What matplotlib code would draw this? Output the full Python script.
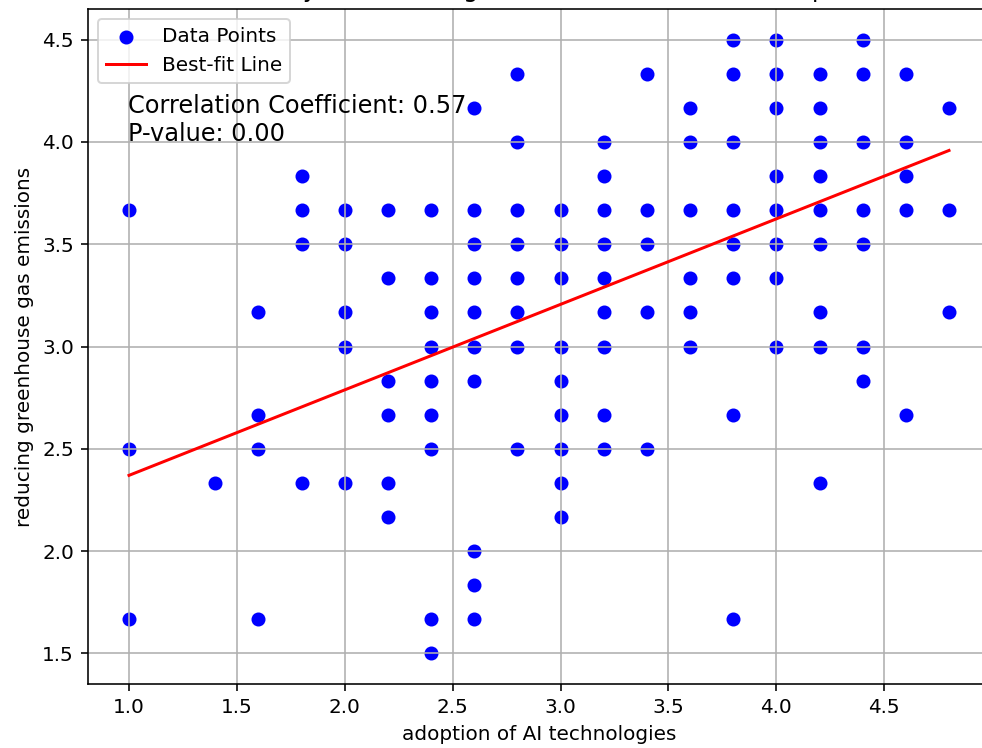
"""Scatter of AI adoption against greenhouse-gas reduction ratings with a fitted line."""

import matplotlib

matplotlib.use("Agg")
import matplotlib.pyplot as plt
import numpy as np

# survey ratings, grouped by the adoption score on the x axis
adoption_levels = [1.0, 1.4, 1.6, 1.8, 2.0, 2.2, 2.4, 2.6, 2.8, 3.0,
                   3.2, 3.4, 3.6, 3.8, 4.0, 4.2, 4.4, 4.6, 4.8]
emission_ratings = [
    [3.667, 2.5, 1.667],
    [2.333],
    [3.167, 2.667, 2.5, 1.667],
    [3.833, 3.667, 3.5, 2.333],
    [3.667, 3.5, 3.167, 3.0, 2.333],
    [3.667, 3.333, 2.833, 2.667, 2.333, 2.167],
    [3.667, 3.333, 3.167, 3.0, 2.833, 2.667, 2.5, 1.667, 1.5],
    [4.167, 3.667, 3.5, 3.333, 3.167, 3.0, 2.833, 2.0, 1.833, 1.667],
    [4.333, 4.0, 3.667, 3.5, 3.333, 3.167, 3.0, 2.5],
    [3.667, 3.5, 3.333, 3.0, 2.833, 2.667, 2.5, 2.333, 2.167],
    [4.0, 3.833, 3.667, 3.5, 3.333, 3.167, 3.0, 2.667, 2.5],
    [4.333, 3.667, 3.5, 3.167, 2.5],
    [4.167, 4.0, 3.667, 3.333, 3.167, 3.0],
    [4.5, 4.333, 4.0, 3.667, 3.5, 3.333, 2.667, 1.667],
    [4.5, 4.333, 4.167, 3.833, 3.667, 3.5, 3.333, 3.0],
    [4.333, 4.167, 4.0, 3.833, 3.667, 3.5, 3.167, 3.0, 2.333],
    [4.5, 4.333, 4.0, 3.667, 3.5, 3.0, 2.833],
    [4.333, 4.0, 3.833, 3.667, 2.667],
    [4.167, 3.667, 3.167],
]

# fitted line and stats as printed on the chart
fit_slope = 0.418
fit_intercept = 1.952
corr_coef = 0.57
p_value = 0.00

# the title sits above the figure edge in the original, only descenders show
title = "Analysis of AI Usage and Emissions Relationship"
x_label = "adoption of AI technologies"
y_label = "reducing greenhouse gas emissions"


def render(path):
    x = np.concatenate([[lvl] * len(ys) for lvl, ys in zip(adoption_levels, emission_ratings)])
    y = np.concatenate(emission_ratings)

    fig = plt.figure(figsize=(982 / 144, 748 / 144), dpi=144)
    ax = fig.add_axes([88 / 982, 64 / 748, 902 / 982, 675 / 748])

    ax.scatter(x, y, color="blue", label="Data Points")
    ax.plot(x, fit_slope * x + fit_intercept, color="red", label="Best-fit Line")

    ax.set_xlabel(x_label)
    ax.set_ylabel(y_label)
    ax.set_title(title)
    ax.legend()
    ax.text(0.995, 4.005, f"Correlation Coefficient: {corr_coef:.2f}\nP-value: {p_value:.2f}",
            fontsize=12)
    ax.grid(True)

    fig.savefig(path, dpi=144)
    plt.close(fig)


if __name__ == "__main__":
    render("out.png")
